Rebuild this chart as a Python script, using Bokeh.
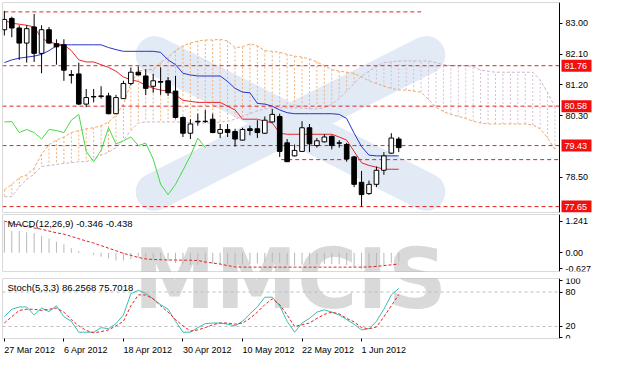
import numpy as np
import pandas as pd
from bokeh.plotting import figure
from bokeh.layouts import column
from bokeh.models import (Range1d, FixedTicker, Label, ColumnDataSource,
                          NumeralTickFormatter, LinearAxis, BoxAnnotation)
from bokeh.embed import file_html
from bokeh.resources import INLINE
from bokeh.core.properties import value

# ---------------- data ----------------
dates = pd.bdate_range("2012-03-27", "2012-06-08")  # 54 daily bars

opens = [82.81, 83.14, 82.86, 82.42, 82.89, 82.12, 82.81, 82.40, 82.37, 81.50,
         81.52, 80.64, 80.86, 80.86, 80.88, 80.36, 80.80, 81.24, 81.57, 81.46,
         81.16, 81.30, 81.32, 81.02, 80.25, 79.79, 80.14, 80.14, 80.20, 79.79,
         79.90, 79.84, 79.59, 79.92, 79.92, 79.79, 80.12, 80.28, 79.51, 79.13,
         79.26, 79.95, 79.43, 79.54, 79.70, 79.51, 79.46, 79.10, 78.36, 78.03,
         78.30, 78.71, 79.21, 79.62]
highs = [83.36, 83.19, 82.94, 82.94, 83.27, 82.94, 82.89, 82.53, 82.53, 81.63,
         81.85, 81.08, 81.08, 81.16, 80.97, 80.91, 81.32, 81.71, 81.74, 81.65,
         81.52, 81.71, 81.43, 81.46, 80.28, 80.20, 80.36, 80.47, 80.36, 80.06,
         80.06, 79.92, 79.95, 80.01, 80.17, 80.28, 80.50, 80.36, 79.62, 79.46,
         80.14, 80.06, 79.65, 79.76, 79.73, 79.59, 79.51, 79.13, 78.69, 78.41,
         78.82, 79.24, 79.79, 79.68]
lows = [82.64, 82.59, 81.93, 81.85, 81.87, 81.54, 82.40, 81.79, 81.32, 81.24,
        80.61, 80.55, 80.69, 80.80, 80.34, 80.35, 80.79, 81.19, 81.48, 80.91,
        80.97, 80.91, 80.88, 80.22, 79.68, 79.62, 80.01, 80.09, 79.79, 79.65,
        79.68, 79.40, 79.58, 79.73, 79.65, 79.77, 80.10, 79.10, 78.95, 79.11,
        79.25, 79.24, 79.37, 79.52, 79.32, 79.37, 78.96, 78.22, 77.65, 77.99,
        78.22, 78.58, 79.19, 79.24]
closes = [83.11, 82.86, 82.42, 82.84, 82.12, 82.81, 82.42, 82.31, 81.63, 81.48,
          80.64, 80.83, 80.85, 80.88, 80.36, 80.83, 81.24, 81.57, 81.49, 81.10,
          81.32, 81.28, 80.97, 80.25, 79.79, 80.06, 80.12, 80.13, 79.81, 79.90,
          79.81, 79.62, 79.90, 79.87, 79.81, 80.17, 80.34, 79.26, 78.96, 79.29,
          79.95, 79.48, 79.57, 79.68, 79.43, 79.50, 79.04, 78.30, 78.00, 78.30,
          78.71, 79.13, 79.65, 79.37]

tenkan = [83.08, 83.00, 82.97, 82.94, 82.89, 82.56, 82.45, 82.40, 82.37, 82.20,
          81.93, 81.87, 81.87, 81.79, 81.71, 81.60, 81.43, 81.35, 81.30, 81.19,
          81.10, 81.05, 81.02, 80.91, 80.75, 80.72, 80.69, 80.69, 80.69, 80.69,
          80.58, 80.47, 80.20, 80.20, 80.20, 80.14, 80.09, 79.79, 79.76, 79.76,
          79.76, 79.76, 79.76, 79.76, 79.76, 79.68, 79.59, 79.26, 78.93, 78.85,
          78.80, 78.74, 78.74, 78.74]
kijun = [81.85, 81.93, 81.98, 82.01, 82.04, 82.09, 82.20, 82.34, 82.37, 82.37,
         82.37, 82.37, 82.37, 82.37, 82.29, 82.23, 82.18, 82.18, 82.18, 82.18,
         82.18, 82.15, 81.93, 81.79, 81.54, 81.49, 81.46, 81.46, 81.46, 81.46,
         81.30, 81.10, 80.99, 80.97, 80.66, 80.64, 80.58, 80.47, 80.39, 80.36,
         80.36, 80.36, 80.36, 80.36, 80.36, 80.34, 80.22, 79.79, 79.40, 79.15,
         79.13, 79.13, 79.13, 79.13]
senkou_a = [78.14, 78.30, 78.49, 78.58, 78.77, 79.18, 79.46, 79.59, 79.68, 79.81,
            79.87, 79.92, 79.95, 80.01, 80.12, 80.31, 80.64, 81.24, 81.60, 81.65,
            81.65, 81.85, 82.01, 82.20, 82.34, 82.42, 82.48, 82.51, 82.51, 82.53,
            82.48, 82.29, 82.31, 82.40, 82.34, 82.20, 82.18, 82.15, 82.09, 82.04,
            82.01, 81.96, 81.87, 81.76, 81.65, 81.60, 81.57, 81.54, 81.43, 81.32,
            81.24, 81.16, 81.10, 81.05, 81.05, 81.02, 80.99, 80.77, 80.55, 80.42,
            80.34, 80.28, 80.22, 80.14, 80.09, 80.06, 80.06, 80.06, 80.06, 80.06,
            80.06, 80.03, 79.92, 79.65, 79.32, 79.15]
senkou_b = [77.94, 77.94, 78.22, 78.44, 78.60, 78.82, 78.85, 78.88, 78.91, 78.93,
            78.96, 78.96, 79.04, 79.15, 79.24, 79.37, 79.59, 79.87, 80.09, 80.12,
            80.12, 80.12, 80.12, 80.12, 80.12, 80.09, 80.09, 80.09, 80.09, 80.12,
            80.14, 80.20, 80.28, 80.36, 80.44, 80.50, 80.53, 80.53, 80.53, 80.53,
            80.53, 80.50, 80.50, 80.53, 80.64, 80.80, 81.02, 81.24, 81.46, 81.60,
            81.74, 81.85, 81.87, 81.90, 81.90, 81.90, 81.90, 81.90, 81.85, 81.79,
            81.76, 81.76, 81.76, 81.74, 81.63, 81.60, 81.57, 81.57, 81.57, 81.57,
            81.57, 81.57, 81.35, 80.97, 80.55, 80.01]
chikou_shift = 26

levels_full = [81.76, 80.58, 79.43, 77.65]
levels_partial = [(83.33, 0, 56), (79.02, 37.2, None)]   # (price, from bar, to bar)
price_ticks = [83.00, 82.10, 81.20, 80.30, 78.50]

macd_main = [1.241, 0.85, 0.85, 0.80, 0.77, 0.66, 0.55, 0.44, 0.33, 0.18,
             0.07, 0.00, -0.08, -0.15, -0.22, -0.30, -0.30, -0.25, -0.18, -0.20,
             -0.25, -0.30, -0.33, -0.40, -0.45, -0.48, -0.46, -0.44, -0.43, -0.45,
             -0.46, -0.48, -0.46, -0.44, -0.42, -0.38, -0.35, -0.40, -0.47, -0.50,
             -0.46, -0.45, -0.44, -0.43, -0.44, -0.45, -0.48, -0.55, -0.627, -0.60,
             -0.56, -0.48, -0.41, -0.346]
macd_signal = [1.24, 1.15, 1.08, 1.02, 0.97, 0.92, 0.85, 0.78, 0.73, 0.64,
               0.55, 0.46, 0.38, 0.28, 0.18, 0.08, -0.02, -0.10, -0.18, -0.24,
               -0.26, -0.27, -0.28, -0.28, -0.29, -0.29, -0.30, -0.36, -0.40, -0.44,
               -0.50, -0.55, -0.56, -0.56, -0.56, -0.56, -0.56, -0.56, -0.56, -0.56,
               -0.56, -0.56, -0.56, -0.56, -0.56, -0.56, -0.56, -0.56, -0.56, -0.55,
               -0.53, -0.50, -0.47, -0.438]
macd_ticks = [1.241, 0.0, -0.627]

stoch_k = [37, 50, 54, 54, 40, 52, 46, 56, 37, 29,
           10, 10, 10, 18, 16, 25, 40, 77, 83, 78,
           68, 58, 50, 29, 10, 10, 18, 25, 26, 26,
           24, 21, 29, 42, 54, 71, 71, 56, 29, 10,
           26, 34, 45, 49, 45, 40, 32, 24, 14, 16,
           29, 50, 75, 86.2568]
stoch_d = [26, 37, 48, 50, 50, 48, 50, 52, 45, 32,
           21, 13, 9, 11, 14, 21, 29, 56, 75, 75,
           68, 56, 45, 32, 21, 12, 14, 18, 23, 26,
           26, 24, 26, 34, 45, 58, 68, 58, 40, 20,
           23, 26, 34, 41, 45, 42, 34, 28, 18, 16,
           19, 37, 56, 75.7018]
stoch_levels = [80, 20]
stoch_ticks = [100, 80, 20, 0]

date_tick_labels = ["27 Mar 2012", "6 Apr 2012", "18 Apr 2012", "30 Apr 2012",
                    "10 May 2012", "22 May 2012", "1 Jun 2012"]

# ---------------- layout / style ----------------
FONT = "Liberation Sans"
CHART_W = 557            # px of the chart area
LABEL_W = 40             # px of the price-label column (inside the frame)
FW = CHART_W + LABEL_W
X_START, X_END = -0.25, 74.6
PPB = CHART_W / (X_END - X_START)          # px per bar
X_FULL = X_END + LABEL_W / PPB
xr = Range1d(X_START, X_FULL)
RED = "#e02424"

def add_right_axis(f, ticks, fmt):
    ax = LinearAxis(fixed_location=X_END, ticker=FixedTicker(ticks=ticks),
                    formatter=NumeralTickFormatter(format=fmt))
    ax.major_tick_out = 3
    ax.major_tick_in = 0
    ax.minor_tick_line_color = None
    ax.axis_line_color = "black"
    ax.major_tick_line_color = "black"
    ax.major_label_text_font = FONT
    ax.major_label_text_font_size = "9px"
    ax.major_label_text_color = "black"
    ax.major_label_standoff = 3
    f.add_layout(ax, "right")
    return ax

def base_fig(fh, yr, top, bottom, xloc=None):
    f = figure(frame_width=FW, frame_height=fh, x_range=xr, y_range=yr,
               output_backend="svg", toolbar_location=None,
               min_border_left=2, min_border_right=2,
               min_border_top=top, min_border_bottom=bottom,
               x_axis_location=xloc, y_axis_location=None)
    f.grid.visible = False
    f.outline_line_color = None
    f.background_fill_color = "white"
    f.border_fill_color = "white"
    f.add_layout(BoxAnnotation(right=X_END, fill_color=None, line_color="black",
                               line_width=1, level="overlay"))
    return f

def hlines(f, locs, **kw):
    f.segment(x0=[X_START] * len(locs), y0=locs, x1=[X_END] * len(locs), y1=locs, **kw)

# ---------- main price panel ----------
p = base_fig(210, Range1d(77.478, 83.604), 2, 1)
add_right_axis(p, price_ticks, "0.00")

wm_band_x = [[20.2, 56.7], [56.7, 20.2]]
wm_band_y = [[82.07, 78.08], [82.07, 78.08]]
p.multi_line(wm_band_x, wm_band_y, line_width=38, line_color="#e2eaf5",
             line_cap="round")

n = len(closes)
xi = np.arange(n)
xc_all = np.arange(len(senkou_a))
vis = xc_all <= X_END
xc = xc_all[vis]
sa = np.array(senkou_a)[vis]
sb = np.array(senkou_b)[vis]
hatch_col = ["#f2b27c" if a >= b else "#d6bfd6" for a, b in zip(sa, sb)]
p.segment(x0=xc, y0=sa, x1=xc, y1=sb, line_color=hatch_col, line_dash="2 2",
          line_width=1)
p.line(xc, sa, line_color="#f0a868", line_dash="3 2", line_width=1)
p.line(xc, sb, line_color="#cdb4cd", line_dash="3 2", line_width=1)

hlines(p, levels_full, line_color=RED, line_dash="4 3", line_width=1)
for lv, b0, b1 in levels_partial:
    p.segment(x0=[b0], y0=[lv], x1=[X_END if b1 is None else b1], y1=[lv],
              line_color=RED, line_dash="4 3", line_width=1)

p.line(xi, tenkan, line_color="#e8262b", line_width=1)
p.line(xi, kijun, line_color="#2a33c8", line_width=1)
p.line(xi[:n - chikou_shift], closes[chikou_shift:], line_color="#45d945",
       line_width=1)

o = np.array(opens); c = np.array(closes)
src = ColumnDataSource(dict(
    x=xi, high=highs, low=lows,
    top=np.maximum(o, c), bottom=np.minimum(o, c),
    fill=["white" if cc >= oo else "black" for oo, cc in zip(o, c)]))
p.segment(x0="x", y0="high", x1="x", y1="low", source=src, line_color="black",
          line_width=1)
p.vbar(x="x", width=0.62, top="top", bottom="bottom", source=src,
       fill_color="fill", line_color="black", line_width=1)

# highlighted price boxes in the label column
box_x = X_END + 17 / PPB
p.rect(x=[box_x] * len(levels_full), y=levels_full, width=30, height=12,
       width_units="screen", height_units="screen", fill_color="#f01010",
       line_color=None)
p.text(x=[X_END] * len(levels_full), y=levels_full,
       text=[f"{lv:.2f}" for lv in levels_full], x_offset=5,
       text_font=value(FONT), text_font_size="9px", text_color="white",
       text_baseline="middle", text_align="left")

# ---------- MACD panel ----------
m = base_fig(57, Range1d(-0.730, 1.496), 1, 3)
add_right_axis(m, macd_ticks, "0.00[0]")
WM_X = 17.4
m.text(x=[WM_X], y=[0.0], text=["MMCIS"], y_offset=26,
       text_font=value("DejaVu Sans"), text_font_style="bold",
       text_font_size="82px", text_color="#d9d9d9", text_baseline="alphabetic")
m.segment(x0=xi, y0=np.zeros(n), x1=xi, y1=macd_main, line_color="#b8b8b8",
          line_width=1)
m.line(xi, macd_signal, line_color=RED, line_dash="3 2", line_width=1)
m.add_layout(Label(x=X_START, y=1.496, x_offset=5, y_offset=-3,
                   text="MACD(12,26,9) -0.346 -0.438", text_font=FONT,
                   text_font_size="9.5px", text_color="black",
                   text_baseline="top"))

# ---------- Stochastic panel ----------
s = base_fig(60, Range1d(-0.97, 103.6), 4, 22, xloc="below")
add_right_axis(s, stoch_ticks, "0")
s.text(x=[WM_X], y=[61.8], text=["MMCIS"], y_offset=-23,
       text_font=value("DejaVu Sans"), text_font_style="bold",
       text_font_size="82px", text_color="#d9d9d9", text_baseline="alphabetic")
hlines(s, stoch_levels, line_color="#bdbdbd", line_dash="3 3", line_width=1)
s.line(xi, stoch_k, line_color="#3cbcb4", line_width=1)
s.line(xi, stoch_d, line_color=RED, line_dash="3 2", line_width=1)
s.add_layout(Label(x=X_START, y=103.6, x_offset=5, y_offset=-3,
                   text="Stoch(5,3,3) 86.2568 75.7018", text_font=FONT,
                   text_font_size="9.5px", text_color="black",
                   text_baseline="top"))

tick_idx = [int(np.where(dates == pd.Timestamp(d))[0][0]) for d in
            pd.to_datetime(date_tick_labels, format="%d %b %Y")]
xa = s.xaxis[0]
xa.ticker = FixedTicker(ticks=tick_idx)
xa.major_label_overrides = {i: lab for i, lab in zip(tick_idx, date_tick_labels)}
xa.major_tick_out = 3
xa.major_tick_in = 0
xa.minor_tick_line_color = None
xa.axis_line_color = None
xa.major_tick_line_color = "black"
xa.major_label_text_font = FONT
xa.major_label_text_font_size = "9px"
xa.major_label_text_color = "black"
xa.major_label_orientation = -0.0001
xa.major_label_standoff = 8

layout = column(p, m, s, spacing=0)
open("out.html", "w").write(file_html(layout, INLINE))
